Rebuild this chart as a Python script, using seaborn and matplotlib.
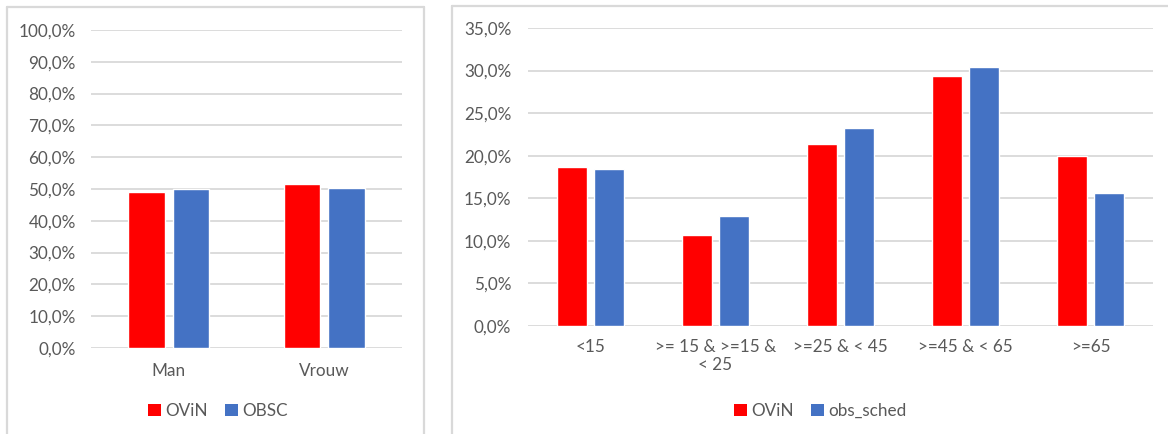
import matplotlib
matplotlib.use("Agg")
import matplotlib.pyplot as plt
import seaborn as sns
import pandas as pd
from matplotlib.lines import Line2D
from matplotlib.patches import Patch
from matplotlib.ticker import FuncFormatter, MultipleLocator

# ---- data -------------------------------------------------------------
gender_categories = ["Man", "Vrouw"]
gender_ovin = [0.489, 0.516]
gender_obsc = [0.500, 0.503]
gender_series = ["OViN", "OBSC"]

age_categories = ["<15", ">= 15 & >=15 &\n< 25", ">=25 & < 45", ">=45 & < 65", ">=65"]
age_ovin = [0.187, 0.107, 0.214, 0.294, 0.200]
age_obs_sched = [0.184, 0.129, 0.232, 0.304, 0.156]
age_series = ["OViN", "obs_sched"]

RED = "#FF0000"
BLUE = "#4472C4"
TEXT = "#595959"
GRID = "#D9D9D9"
FS = 12.3

sns.set_theme(style="white")
plt.rcParams["font.family"] = ["Lato", "DejaVu Sans"]
plt.rcParams["text.color"] = TEXT

W, H = 1168, 434
fig = plt.figure(figsize=(W / 100, H / 100), dpi=100)
fig.patch.set_facecolor("white")


def px_axes(x0, y0, x1, y1):
    return fig.add_axes([x0 / W, 1 - y1 / H, (x1 - x0) / W, (y1 - y0) / H])


def pct(v, _):
    return f"{v * 100:.1f}%".replace(".", ",")


def style_axes(ax, ymax, step):
    ax.set_ylim(0, ymax)
    ax.yaxis.set_major_locator(MultipleLocator(step))
    ax.yaxis.set_major_formatter(FuncFormatter(pct))
    ax.grid(axis="y", color=GRID, linewidth=1.3)
    ax.set_axisbelow(True)
    for s in ax.spines.values():
        s.set_visible(False)
    ax.tick_params(axis="both", length=0, labelsize=FS, colors=TEXT)
    ax.set_xlabel("")
    ax.set_ylabel("")


# ---- left panel: gender ----------------------------------------------
df_g = pd.DataFrame({
    "cat": gender_categories * 2,
    "val": gender_ovin + gender_obsc,
    "series": [gender_series[0]] * 2 + [gender_series[1]] * 2,
})
ax1 = px_axes(91, 30, 402, 348)
sns.barplot(data=df_g, x="cat", y="val", hue="series", order=gender_categories,
            hue_order=gender_series, palette=[RED, BLUE], width=0.57, gap=0.18,
            saturation=1, errorbar=None, legend=False, ax=ax1)
style_axes(ax1, 1.0, 0.1)
ax1.tick_params(axis="y", pad=11)
ax1.tick_params(axis="x", pad=11)

# ---- right panel: age groups -----------------------------------------
df_a = pd.DataFrame({
    "cat": age_categories * 2,
    "val": age_ovin + age_obs_sched,
    "series": [age_series[0]] * 5 + [age_series[1]] * 5,
})
ax2 = px_axes(528, 28, 1153, 326)
sns.barplot(data=df_a, x="cat", y="val", hue="series", order=age_categories,
            hue_order=age_series, palette=[RED, BLUE], width=0.58, gap=0.17,
            saturation=1, errorbar=None, legend=False, ax=ax2)
style_axes(ax2, 0.35, 0.05)
ax2.tick_params(axis="x", pad=9)
ax2.tick_params(axis="y", pad=12)

# ---- legends ----------------------------------------------------------
def add_legend(labels, cx, cy):
    handles = [Patch(facecolor=c, edgecolor="none") for c in (RED, BLUE)]
    fig.legend(handles, labels, loc="center", bbox_to_anchor=(cx / W, 1 - cy / H),
               ncol=2, frameon=False, fontsize=FS, handlelength=0.75,
               handleheight=0.75, handletextpad=0.25, columnspacing=1.0,
               labelcolor=TEXT)

add_legend(gender_series, 218, 411)
add_legend(age_series, 820, 411)

# ---- panel frames -----------------------------------------------------
def frame_line(x0, y0, x1, y1):
    fig.add_artist(Line2D([x0 / W, x1 / W], [1 - y0 / H, 1 - y1 / H],
                          color=GRID, linewidth=1.6, transform=fig.transFigure))

frame_line(7, 7, 424, 7)
frame_line(7, 7, 7, H)
frame_line(424, 7, 424, H)
frame_line(452, 6, W, 6)
frame_line(452, 6, 452, H)

fig.savefig("out.png", dpi=100, facecolor="white")
